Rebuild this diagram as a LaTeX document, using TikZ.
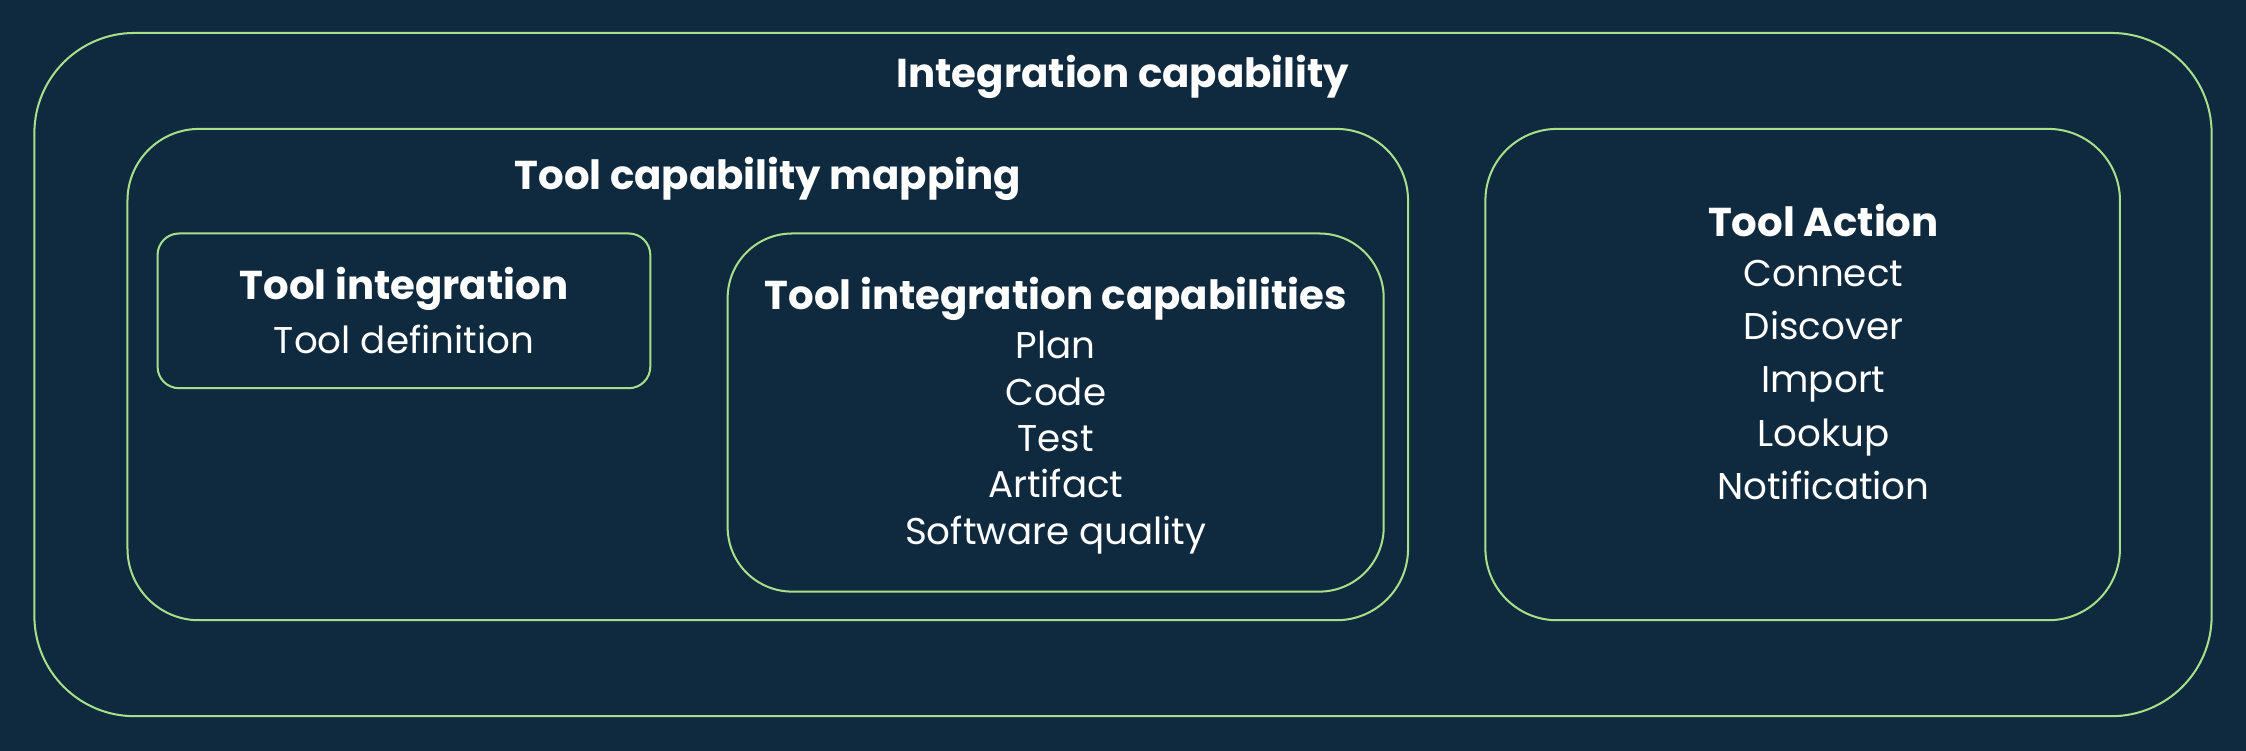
\documentclass[tikz,border=0pt]{standalone}
\usepackage{fontspec}
\setmainfont{Poppins}
\definecolor{bg}{HTML}{0F2A3F}
\definecolor{edge}{HTML}{A8E08A}
\begin{document}
\begin{tikzpicture}[x=0.02cm,y=-0.02cm,
  box/.style={draw=edge,line width=0.8pt},
  ttl/.style={text=white,font=\bfseries\fontsize{16}{19}\selectfont,inner sep=0},
  itm/.style={text=white,font=\fontsize{14.8}{18.4}\selectfont,inner sep=0,align=center},
  itmb/.style={itm,font=\fontsize{14.8}{21.2}\selectfont}]
\fill[bg] (0,0) rectangle (1568,524);
\useasboundingbox (0,0) rectangle (1568,524);
\draw[box,rounded corners=1.4cm] (24,23) rectangle (1544,500);
\draw[box,rounded corners=1cm] (89,90) rectangle (983,433);
\draw[box,rounded corners=0.3cm] (110,163) rectangle (454,271);
\draw[box,rounded corners=0.9cm] (508,163) rectangle (966,413);
\draw[box,rounded corners=1cm] (1037,90) rectangle (1480,433);
\node[ttl] (t1) at (784,54) {Integration capability};
\node[ttl] (t2) at (536,125) {Tool capability mapping};
\node[ttl] (t3) at (282,202) {Tool integration};
\node[itm] (i3) at (282,237) {Tool definition};
\node[ttl] (t4) at (737,209) {Tool integration capabilities};
\node[itm,anchor=north] (i4) at (737,231) {Plan\\Code\\Test\\Artifact\\Software quality};
\node[ttl] (t5) at (1273,154) {Tool Action};
\node[itmb,anchor=north] (i5) at (1273,181) {Connect\\Discover\\Import\\Lookup\\Notification};
\end{tikzpicture}
\end{document}
